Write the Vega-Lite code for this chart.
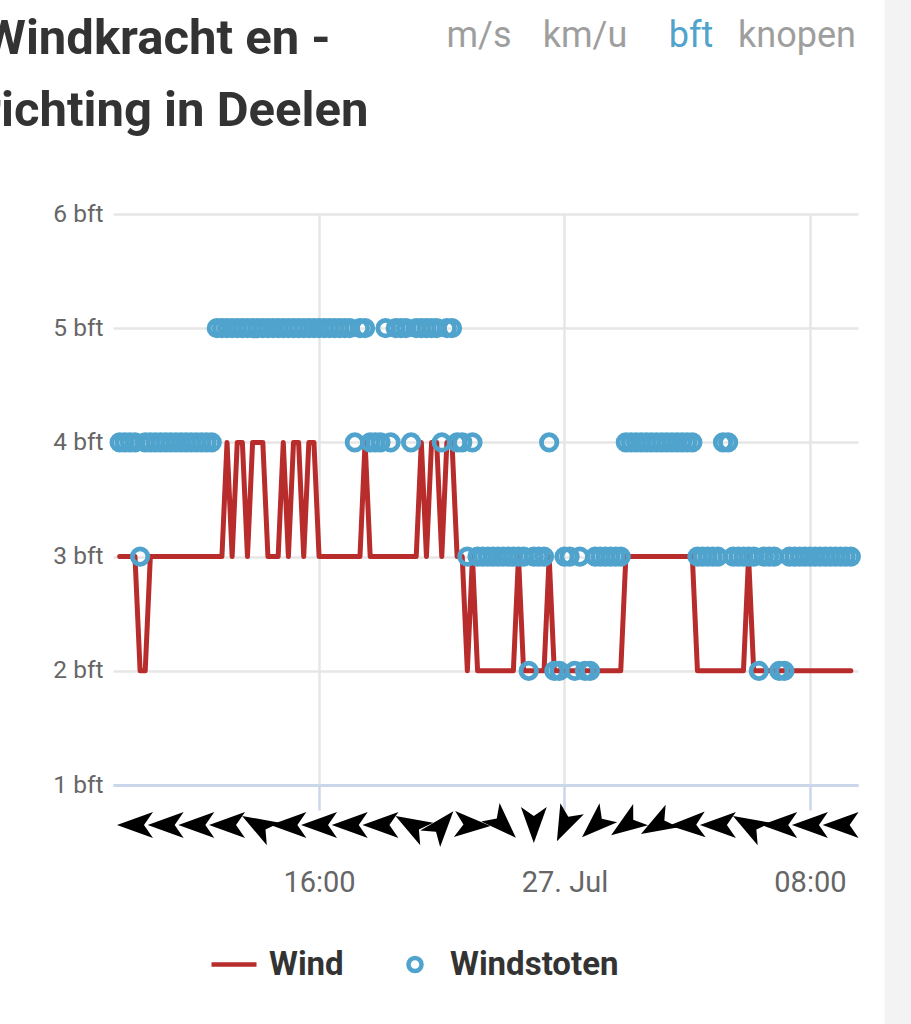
{
  "$schema": "https://vega.github.io/schema/vega-lite/v6.json",
  "width": 745,
  "height": 571,
  "autosize": {"type": "none"},
  "padding": {"left": 113, "top": 214, "right": 53, "bottom": 239},
  "background": "white",
  "config": {"view": {"stroke": null}, "font": "Roboto"},
  "title": {
    "text": ["Windkracht en -", "richting in Deelen"],
    "anchor": "start",
    "frame": "group",
    "dx": -130,
    "dy": 175.5,
    "offset": 0,
    "fontSize": 49,
    "font": "Roboto",
    "fontWeight": "bold",
    "color": "#333333",
    "lineHeight": 72,
    "baseline": "alphabetic"
  },
  "datasets": {
    "wind": [
      {"t":"2019-07-26T09:30","Wind":3,"Windstoten":4},
      {"t":"2019-07-26T09:40","Wind":3,"Windstoten":4},
      {"t":"2019-07-26T09:50","Wind":3,"Windstoten":4},
      {"t":"2019-07-26T10:00","Wind":3,"Windstoten":4},
      {"t":"2019-07-26T10:10","Wind":2,"Windstoten":3},
      {"t":"2019-07-26T10:20","Wind":2,"Windstoten":4},
      {"t":"2019-07-26T10:30","Wind":3,"Windstoten":4},
      {"t":"2019-07-26T10:40","Wind":3,"Windstoten":4},
      {"t":"2019-07-26T10:50","Wind":3,"Windstoten":4},
      {"t":"2019-07-26T11:00","Wind":3,"Windstoten":4},
      {"t":"2019-07-26T11:10","Wind":3,"Windstoten":4},
      {"t":"2019-07-26T11:20","Wind":3,"Windstoten":4},
      {"t":"2019-07-26T11:30","Wind":3,"Windstoten":4},
      {"t":"2019-07-26T11:40","Wind":3,"Windstoten":4},
      {"t":"2019-07-26T11:50","Wind":3,"Windstoten":4},
      {"t":"2019-07-26T12:00","Wind":3,"Windstoten":4},
      {"t":"2019-07-26T12:10","Wind":3,"Windstoten":4},
      {"t":"2019-07-26T12:20","Wind":3,"Windstoten":4},
      {"t":"2019-07-26T12:30","Wind":3,"Windstoten":4},
      {"t":"2019-07-26T12:40","Wind":3,"Windstoten":5},
      {"t":"2019-07-26T12:50","Wind":3,"Windstoten":5},
      {"t":"2019-07-26T13:00","Wind":4,"Windstoten":5},
      {"t":"2019-07-26T13:10","Wind":3,"Windstoten":5},
      {"t":"2019-07-26T13:20","Wind":4,"Windstoten":5},
      {"t":"2019-07-26T13:30","Wind":4,"Windstoten":5},
      {"t":"2019-07-26T13:40","Wind":3,"Windstoten":5},
      {"t":"2019-07-26T13:50","Wind":4,"Windstoten":5},
      {"t":"2019-07-26T14:00","Wind":4,"Windstoten":5},
      {"t":"2019-07-26T14:10","Wind":4,"Windstoten":5},
      {"t":"2019-07-26T14:20","Wind":3,"Windstoten":5},
      {"t":"2019-07-26T14:30","Wind":3,"Windstoten":5},
      {"t":"2019-07-26T14:40","Wind":3,"Windstoten":5},
      {"t":"2019-07-26T14:50","Wind":4,"Windstoten":5},
      {"t":"2019-07-26T15:00","Wind":3,"Windstoten":5},
      {"t":"2019-07-26T15:10","Wind":4,"Windstoten":5},
      {"t":"2019-07-26T15:20","Wind":4,"Windstoten":5},
      {"t":"2019-07-26T15:30","Wind":3,"Windstoten":5},
      {"t":"2019-07-26T15:40","Wind":4,"Windstoten":5},
      {"t":"2019-07-26T15:50","Wind":4,"Windstoten":5},
      {"t":"2019-07-26T16:00","Wind":3,"Windstoten":5},
      {"t":"2019-07-26T16:10","Wind":3,"Windstoten":5},
      {"t":"2019-07-26T16:20","Wind":3,"Windstoten":5},
      {"t":"2019-07-26T16:30","Wind":3,"Windstoten":5},
      {"t":"2019-07-26T16:40","Wind":3,"Windstoten":5},
      {"t":"2019-07-26T16:50","Wind":3,"Windstoten":5},
      {"t":"2019-07-26T17:00","Wind":3,"Windstoten":5},
      {"t":"2019-07-26T17:10","Wind":3,"Windstoten":4},
      {"t":"2019-07-26T17:20","Wind":3,"Windstoten":5},
      {"t":"2019-07-26T17:30","Wind":4,"Windstoten":5},
      {"t":"2019-07-26T17:40","Wind":3,"Windstoten":4},
      {"t":"2019-07-26T17:50","Wind":3,"Windstoten":4},
      {"t":"2019-07-26T18:00","Wind":3,"Windstoten":4},
      {"t":"2019-07-26T18:10","Wind":3,"Windstoten":5},
      {"t":"2019-07-26T18:20","Wind":3,"Windstoten":4},
      {"t":"2019-07-26T18:30","Wind":3,"Windstoten":5},
      {"t":"2019-07-26T18:40","Wind":3,"Windstoten":5},
      {"t":"2019-07-26T18:50","Wind":3,"Windstoten":5},
      {"t":"2019-07-26T19:00","Wind":3,"Windstoten":4},
      {"t":"2019-07-26T19:10","Wind":3,"Windstoten":5},
      {"t":"2019-07-26T19:20","Wind":4,"Windstoten":5},
      {"t":"2019-07-26T19:30","Wind":3,"Windstoten":5},
      {"t":"2019-07-26T19:40","Wind":4,"Windstoten":5},
      {"t":"2019-07-26T19:50","Wind":4,"Windstoten":5},
      {"t":"2019-07-26T20:00","Wind":3,"Windstoten":4},
      {"t":"2019-07-26T20:10","Wind":4,"Windstoten":5},
      {"t":"2019-07-26T20:20","Wind":4,"Windstoten":5},
      {"t":"2019-07-26T20:30","Wind":3,"Windstoten":4},
      {"t":"2019-07-26T20:40","Wind":3,"Windstoten":4},
      {"t":"2019-07-26T20:50","Wind":2,"Windstoten":3},
      {"t":"2019-07-26T21:00","Wind":3,"Windstoten":4},
      {"t":"2019-07-26T21:10","Wind":2,"Windstoten":3},
      {"t":"2019-07-26T21:20","Wind":2,"Windstoten":3},
      {"t":"2019-07-26T21:30","Wind":2,"Windstoten":3},
      {"t":"2019-07-26T21:40","Wind":2,"Windstoten":3},
      {"t":"2019-07-26T21:50","Wind":2,"Windstoten":3},
      {"t":"2019-07-26T22:00","Wind":2,"Windstoten":3},
      {"t":"2019-07-26T22:10","Wind":2,"Windstoten":3},
      {"t":"2019-07-26T22:20","Wind":2,"Windstoten":3},
      {"t":"2019-07-26T22:30","Wind":3,"Windstoten":3},
      {"t":"2019-07-26T22:40","Wind":2,"Windstoten":3},
      {"t":"2019-07-26T22:50","Wind":2,"Windstoten":2},
      {"t":"2019-07-26T23:00","Wind":2,"Windstoten":3},
      {"t":"2019-07-26T23:10","Wind":2,"Windstoten":3},
      {"t":"2019-07-26T23:20","Wind":2,"Windstoten":3},
      {"t":"2019-07-26T23:30","Wind":3,"Windstoten":4},
      {"t":"2019-07-26T23:40","Wind":2,"Windstoten":2},
      {"t":"2019-07-26T23:50","Wind":2,"Windstoten":2},
      {"t":"2019-07-27T00:00","Wind":2,"Windstoten":3},
      {"t":"2019-07-27T00:10","Wind":2,"Windstoten":3},
      {"t":"2019-07-27T00:20","Wind":2,"Windstoten":2},
      {"t":"2019-07-27T00:30","Wind":2,"Windstoten":3},
      {"t":"2019-07-27T00:40","Wind":2,"Windstoten":2},
      {"t":"2019-07-27T00:50","Wind":2,"Windstoten":2},
      {"t":"2019-07-27T01:00","Wind":2,"Windstoten":3},
      {"t":"2019-07-27T01:10","Wind":2,"Windstoten":3},
      {"t":"2019-07-27T01:20","Wind":2,"Windstoten":3},
      {"t":"2019-07-27T01:30","Wind":2,"Windstoten":3},
      {"t":"2019-07-27T01:40","Wind":2,"Windstoten":3},
      {"t":"2019-07-27T01:50","Wind":2,"Windstoten":3},
      {"t":"2019-07-27T02:00","Wind":3,"Windstoten":4},
      {"t":"2019-07-27T02:10","Wind":3,"Windstoten":4},
      {"t":"2019-07-27T02:20","Wind":3,"Windstoten":4},
      {"t":"2019-07-27T02:30","Wind":3,"Windstoten":4},
      {"t":"2019-07-27T02:40","Wind":3,"Windstoten":4},
      {"t":"2019-07-27T02:50","Wind":3,"Windstoten":4},
      {"t":"2019-07-27T03:00","Wind":3,"Windstoten":4},
      {"t":"2019-07-27T03:10","Wind":3,"Windstoten":4},
      {"t":"2019-07-27T03:20","Wind":3,"Windstoten":4},
      {"t":"2019-07-27T03:30","Wind":3,"Windstoten":4},
      {"t":"2019-07-27T03:40","Wind":3,"Windstoten":4},
      {"t":"2019-07-27T03:50","Wind":3,"Windstoten":4},
      {"t":"2019-07-27T04:00","Wind":3,"Windstoten":4},
      {"t":"2019-07-27T04:10","Wind":3,"Windstoten":4},
      {"t":"2019-07-27T04:20","Wind":2,"Windstoten":3},
      {"t":"2019-07-27T04:30","Wind":2,"Windstoten":3},
      {"t":"2019-07-27T04:40","Wind":2,"Windstoten":3},
      {"t":"2019-07-27T04:50","Wind":2,"Windstoten":3},
      {"t":"2019-07-27T05:00","Wind":2,"Windstoten":3},
      {"t":"2019-07-27T05:10","Wind":2,"Windstoten":4},
      {"t":"2019-07-27T05:20","Wind":2,"Windstoten":4},
      {"t":"2019-07-27T05:30","Wind":2,"Windstoten":3},
      {"t":"2019-07-27T05:40","Wind":2,"Windstoten":3},
      {"t":"2019-07-27T05:50","Wind":2,"Windstoten":3},
      {"t":"2019-07-27T06:00","Wind":3,"Windstoten":3},
      {"t":"2019-07-27T06:10","Wind":2,"Windstoten":3},
      {"t":"2019-07-27T06:20","Wind":2,"Windstoten":2},
      {"t":"2019-07-27T06:30","Wind":2,"Windstoten":3},
      {"t":"2019-07-27T06:40","Wind":2,"Windstoten":3},
      {"t":"2019-07-27T06:50","Wind":2,"Windstoten":3},
      {"t":"2019-07-27T07:00","Wind":2,"Windstoten":2},
      {"t":"2019-07-27T07:10","Wind":2,"Windstoten":2},
      {"t":"2019-07-27T07:20","Wind":2,"Windstoten":3},
      {"t":"2019-07-27T07:30","Wind":2,"Windstoten":3},
      {"t":"2019-07-27T07:40","Wind":2,"Windstoten":3},
      {"t":"2019-07-27T07:50","Wind":2,"Windstoten":3},
      {"t":"2019-07-27T08:00","Wind":2,"Windstoten":3},
      {"t":"2019-07-27T08:10","Wind":2,"Windstoten":3},
      {"t":"2019-07-27T08:20","Wind":2,"Windstoten":3},
      {"t":"2019-07-27T08:30","Wind":2,"Windstoten":3},
      {"t":"2019-07-27T08:40","Wind":2,"Windstoten":3},
      {"t":"2019-07-27T08:50","Wind":2,"Windstoten":3},
      {"t":"2019-07-27T09:00","Wind":2,"Windstoten":3},
      {"t":"2019-07-27T09:10","Wind":2,"Windstoten":3},
      {"t":"2019-07-27T09:20","Wind":2,"Windstoten":3}
    ],
    "arrows": [
      {"t":"2019-07-26T10:00","dir":270},
      {"t":"2019-07-26T11:00","dir":270},
      {"t":"2019-07-26T12:00","dir":270},
      {"t":"2019-07-26T13:00","dir":270},
      {"t":"2019-07-26T14:00","dir":300},
      {"t":"2019-07-26T15:00","dir":270},
      {"t":"2019-07-26T16:00","dir":270},
      {"t":"2019-07-26T17:00","dir":270},
      {"t":"2019-07-26T18:00","dir":270},
      {"t":"2019-07-26T19:00","dir":300},
      {"t":"2019-07-26T20:00","dir":40},
      {"t":"2019-07-26T21:00","dir":93},
      {"t":"2019-07-26T22:00","dir":135},
      {"t":"2019-07-26T23:00","dir":180},
      {"t":"2019-07-27T00:00","dir":205},
      {"t":"2019-07-27T01:00","dir":227},
      {"t":"2019-07-27T02:00","dir":235},
      {"t":"2019-07-27T03:00","dir":240},
      {"t":"2019-07-27T04:00","dir":268},
      {"t":"2019-07-27T05:00","dir":270},
      {"t":"2019-07-27T06:00","dir":300},
      {"t":"2019-07-27T07:00","dir":270},
      {"t":"2019-07-27T08:00","dir":270},
      {"t":"2019-07-27T09:00","dir":270}
    ],
    "units": [
      {"unit": "m/s"},
      {"unit": "km/u"},
      {"unit": "bft"},
      {"unit": "knopen"}
    ]
  },
  "layer": [
    {
      "layer": [
        {
          "data": {"name": "wind"},
          "transform": [
            {"fold": ["Wind", "Windstoten"], "as": ["series", "bft"]},
            {"filter": "datum.series == 'Wind'"}
          ],
          "mark": {"type": "line", "strokeWidth": 5, "strokeJoin": "round", "strokeCap": "round"},
          "encoding": {
            "x": {
              "field": "t",
              "type": "temporal",
              "scale": {"domain": [
                {"year": 2019, "month": 7, "date": 26, "hours": 9, "minutes": 17},
                {"year": 2019, "month": 7, "date": 27, "hours": 9, "minutes": 34}
              ]},
              "axis": {
                "values": [
                  {"year": 2019, "month": 7, "date": 26, "hours": 16},
                  {"year": 2019, "month": 7, "date": 27, "hours": 0},
                  {"year": 2019, "month": 7, "date": 27, "hours": 8}
                ],
                "labelExpr": "hours(datum.value) == 0 ? timeFormat(datum.value, '%d. %b') : timeFormat(datum.value, '%H:%M')",
                "grid": true,
                "gridColor": "#e6e6e6",
                "gridWidth": 2.5,
                "domainColor": "#ccd6eb",
                "domainWidth": 3,
                "tickColor": "#ccd6eb",
                "tickWidth": 2.5,
                "tickSize": 25,
                "labelFontSize": 29,
                "labelColor": "#666666",
                "labelFont": "Roboto",
                "labelBaseline": "alphabetic",
                "labelPadding": 81,
                "labelFlush": false,
                "labelOverlap": false,
                "title": null
              }
            },
            "y": {
              "field": "bft",
              "type": "quantitative",
              "scale": {"domain": [1, 6], "nice": false, "zero": false},
              "axis": {
                "values": [1, 2, 3, 4, 5, 6],
                "labelExpr": "datum.value + ' bft'",
                "domain": false,
                "ticks": false,
                "labelPadding": 10,
                "labelFontSize": 24.5,
                "labelColor": "#666666",
                "labelFont": "Roboto",
                "grid": true,
                "gridColor": "#e6e6e6",
                "gridWidth": 2.5,
                "title": null
              }
            },
            "stroke": {
              "field": "series",
              "type": "nominal",
              "scale": {"domain": ["Wind", "Windstoten"], "range": ["#b82c2c", "#4fa3cc"]},
              "legend": {
                "orient": "none",
                "legendX": 96,
                "legendY": 725.5,
                "direction": "horizontal",
                "title": null,
                "labelFontSize": 33,
                "labelFontWeight": "bold",
                "labelColor": "#333333",
                "labelFont": "Roboto",
                "labelOffset": 10,
                "labelLimit": 400,
                "columnPadding": 46,
                "symbolSize": 2025,
                "symbolStrokeWidth": 4.5,
                "padding": 0
              }
            }
          }
        },
        {
          "data": {"name": "wind"},
          "transform": [
            {"fold": ["Wind", "Windstoten"], "as": ["series", "bft"]},
            {"filter": "datum.series == 'Windstoten'"}
          ],
          "mark": {"type": "point", "filled": false, "strokeWidth": 4.8, "size": 2844, "opacity": 1},
          "encoding": {
            "x": {"field": "t", "type": "temporal"},
            "y": {"field": "bft", "type": "quantitative"},
            "stroke": {"field": "series", "type": "nominal"},
            "shape": {
              "field": "series",
              "type": "nominal",
              "scale": {
                "domain": ["Wind", "Windstoten"],
                "range": ["M-1,0L1,0", "M0.29,0A0.29,0.29,0,1,1,-0.29,0A0.29,0.29,0,1,1,0.29,0Z"]
              },
              "legend": {
                "orient": "none",
                "legendX": 96,
                "legendY": 725.5,
                "direction": "horizontal",
                "title": null,
                "labelFontSize": 33,
                "labelFontWeight": "bold",
                "labelColor": "#333333",
                "labelFont": "Roboto",
                "labelOffset": 10,
                "labelLimit": 400,
                "columnPadding": 46,
                "symbolSize": 2025,
                "symbolStrokeWidth": 4.5,
                "padding": 0
              }
            }
          }
        },
        {
          "data": {"name": "arrows"},
          "mark": {"type": "point", "shape": "M0,-1L0.72,1L0,0.5L-0.72,1Z", "filled": true, "fill": "black", "size": 1296, "opacity": 1},
          "encoding": {
            "x": {"field": "t", "type": "temporal"},
            "y": {"datum": 0.65, "type": "quantitative"},
            "angle": {"field": "dir", "type": "quantitative", "scale": null}
          }
        },
        {
          "data": {"values": [{}]},
          "mark": {"type": "rect", "fill": "#f3f3f3"},
          "encoding": {
            "x": {"datum": {"year": 2019, "month": 7, "date": 27, "hours": 10, "minutes": 26}, "type": "temporal"},
            "x2": {"datum": {"year": 2019, "month": 7, "date": 27, "hours": 12}},
            "y": {"datum": -5, "type": "quantitative"},
            "y2": {"datum": 7.88}
          }
        }
      ]
    },
    {
      "data": {"name": "units"},
      "mark": {"type": "text", "fontSize": 36, "font": "Roboto", "baseline": "middle", "align": "center"},
      "encoding": {
        "x": {"field": "unit", "type": "nominal", "sort": null, "scale": {"range": [366, 684], "padding": 0}, "axis": null},
        "y": {"datum": 7.56, "type": "quantitative"},
        "text": {"field": "unit"},
        "color": {"condition": {"test": "datum.unit === 'bft'", "value": "#4fa3cc"}, "value": "#9e9e9e"}
      }
    }
  ],
  "resolve": {"scale": {"x": "independent"}}
}
